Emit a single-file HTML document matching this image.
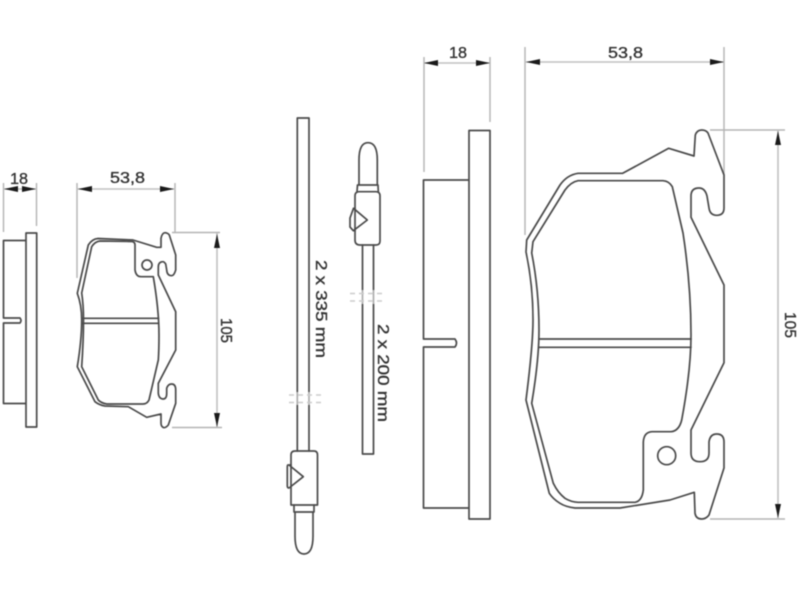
<!DOCTYPE html>
<html><head><meta charset="utf-8"><style>
html,body{margin:0;padding:0;background:#fff;width:800px;height:600px;overflow:hidden}
svg{display:block;filter:blur(.5px)}
text{font-family:"Liberation Sans",sans-serif;font-size:16px;fill:#333;stroke:#333;stroke-width:.35}
.o{fill:none;stroke:#4a4a4a;stroke-width:1.7;stroke-linejoin:round;stroke-linecap:round}
.e{fill:none;stroke:#b4b4b4;stroke-width:1.4}
.d{fill:none;stroke:#c0c0c0;stroke-width:1.6}
.a{fill:#1a1a1a;stroke:none}
.b{fill:none;stroke:#ccc;stroke-width:1.5;stroke-dasharray:5 4}
</style></head><body>
<svg width="800" height="600" viewBox="0 0 800 600" xmlns="http://www.w3.org/2000/svg">
<rect width="800" height="600" fill="#fff"/>

<!-- LEFT SIDE VIEW -->
<path class="e" d="M3.5 183V232M36.5 183V226M77 183V278M175 183V233M172 232.5H220M172 427.5H222"/>
<path class="d" d="M3.5 189H36.5M77 189H175M217 233V427"/>
<path class="a" d="M4 189L18 186V192ZM36 189L22 186V192ZM78 189L92 186V192ZM174 189L160 186V192ZM217 234L214 248H220ZM217 427L214 413H220Z"/>
<text x="10" y="184" textLength="18" lengthAdjust="spacingAndGlyphs">18</text>
<text x="110" y="183" textLength="35" lengthAdjust="spacingAndGlyphs">53,8</text>
<text transform="translate(221,318) rotate(90)" textLength="25" lengthAdjust="spacingAndGlyphs">105</text>
<path class="o" d="M26 233H36.7V427H26ZM26 240.5H3.5V318H20Q22 320.5 20 323H3.5V403.5H26"/>

<!-- LEFT PAD -->
<path class="o" d="M98 238.5L133 240L156.7 247.3L161 247.3L161 238.3Q162 233 165 232.7Q168 233 169.3 235L175.7 255V270Q174 275.7 171.7 275.7Q167 275.7 166.7 270L165.7 264Q164 261.5 162.7 261.7Q158.3 262 158.3 267V275L175.7 311.7V350L158.3 383.3V393.3Q159 399 163.3 399Q166.7 399 166.7 393.3V388.3Q168 384 171.7 384Q175.7 384 175.7 390V403.3L168.3 425Q166 427.7 164 427.7Q161 427 161 423.3V414L146.7 417.3L128.3 406.7L105 406Q99 405 95 401.7L77.3 366.7Q81.7 340 81.7 320Q81.7 305 77.3 293.3L88.3 245Q92 239 98 238.5Z"/>
<path class="o" d="M100 241L132 241.5Q135 242 135 245V270Q136 276.7 141 276.7H153.3Q159 310 159 335Q159 350 158.3 360L149 400Q147 404 143 404H106.7Q101 403 98.3 400L81.7 366.7Q83.5 340 83.5 320Q83.5 305 81.7 293L91.7 246.7Q95 241.5 100 241Z"/>
<path class="o" d="M83 318.3H158.5M83 323.3H158.5"/>
<circle class="o" cx="147" cy="265" r="5"/>

<!-- SENSOR LONG -->
<path class="o" d="M297.3 451V118H309V451"/>
<rect x="287" y="392" width="32" height="13" fill="#fff" opacity=".55"/>
<path class="b" d="M289 395H322M289 402.5H322"/>
<path class="o" d="M295 451H314Q317.5 451 317.5 455V505H291V455Q291 451 295 451Z"/>
<path class="o" d="M291 465H288Q287.3 465 287.3 467V486Q287.3 488 289 488L303.3 476.7L289 465"/>
<path class="o" d="M294 505V512H314V505M295 512V536Q295 554 304 554Q313 554 313 536V512"/>

<!-- SENSOR SHORT -->
<path class="o" d="M362.5 245V454H373.5V245"/>
<rect x="350" y="290" width="32" height="14" fill="#fff" opacity=".55"/>
<path class="b" d="M350 293.5H383M350 301H383"/>
<path class="o" d="M359 191.7H376Q380 191.7 380 196V241Q380 245 376 245H360Q355 245 355 240V196Q355 191.7 359 191.7Z"/>
<path class="o" d="M355 208.3H353.5L350 218V227L353.3 230.7H355M353.5 208.3L367.3 220L353.3 230.7"/>
<path class="o" d="M357 191.7L357.5 185H378L378.3 191.7M359 185V160Q359 142.7 368 142.7Q377.3 142.7 377.3 160V185"/>

<text transform="translate(316,260) rotate(90)" textLength="98" lengthAdjust="spacingAndGlyphs">2 x 335 mm</text>
<text transform="translate(378,324) rotate(90)" textLength="98" lengthAdjust="spacingAndGlyphs">2 x 200 mm</text>

<!-- RIGHT SIDE VIEW -->
<path class="e" d="M424 57V172M490 57V122M525 47V235M724 47V175M710 130H785M710 519H785"/>
<path class="d" d="M424 63H490M525 62H724M778 130V519"/>
<path class="a" d="M424 63L438 60V66ZM490 63L476 60V66ZM526 62L540 59V65ZM724 62L710 59V65ZM778 131L775 145H781ZM778 518L775 504H781Z"/>
<text x="449" y="58" textLength="18" lengthAdjust="spacingAndGlyphs">18</text>
<text x="608" y="58" textLength="35" lengthAdjust="spacingAndGlyphs">53,8</text>
<text transform="translate(785,312) rotate(90)" textLength="26" lengthAdjust="spacingAndGlyphs">105</text>
<path class="o" d="M469 130.5H490V519H469ZM469 180H423.5V339H455Q458 343 455 347H423.5V508H469"/>

<!-- RIGHT PAD -->
<path class="o" d="M622.7 173.3L668.7 148.3L694 156L695.3 135Q697 130 701.7 130Q706 130 708 133L724 175V208Q724 215.3 716.7 215.3Q710 215.3 709 208L707 196Q705 188 699 188Q691 188 691 196V217.3L724 285V362.7L691 430V453Q691 461.7 700 461.7Q709 461.7 709 453V442Q710 434 716.7 434Q724 434 724 442V468L709 515Q706 519 701.7 519Q696 519 695 513.3L694.3 492.3L670 500L620 508H575Q566 507 560 503.3Q553 499 549.3 493.3L526 400Q533 345 533 320Q533 285 526 252L526.7 240L560 185Q567 175 578 173.3Z"/>
<path class="o" d="M578 180.7H663Q669 181 672.3 186.7L683 233Q691 285 691 335Q691 370 681.7 420Q679 431 671 431.7H652Q644 432 643.3 442V490Q642 501 635 502.3H578Q571 502 565 498.3Q558 493 553.3 483.3L531.7 403.3Q539 360 539 330Q539 290 531.7 253L533 241.7L565 190Q571 182 578 180.7Z"/>
<path class="o" d="M539 339H691M539 347.3H691"/>
<circle class="o" cx="666.7" cy="455.7" r="9"/>
</svg>
</body></html>
